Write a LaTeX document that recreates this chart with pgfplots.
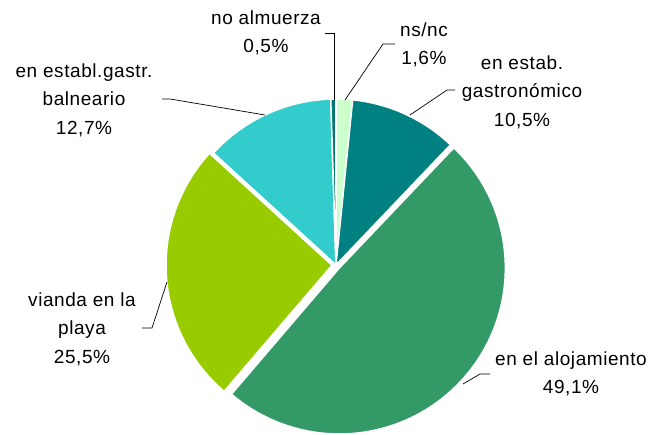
\documentclass[border=0pt]{standalone}
\usepackage{pgfplots}
\pgfplotsset{compat=1.18}
\usepackage{fontspec}
\setmainfont{Liberation Sans}[LetterSpace=3]

\definecolor{cNs}{HTML}{CCFFCC}
\definecolor{cGas}{HTML}{008080}
\definecolor{cAloj}{HTML}{339966}
\definecolor{cVia}{HTML}{99CC00}
\definecolor{cBal}{HTML}{33CCCC}
\definecolor{cNo}{HTML}{007878}

% pie geometry, in pixels of the reference (y downwards, so negative)
\def\cx{336}
\def\cy{-265}
\def\R{166}
\def\total{99.9}
\xdef\curang{90}

% #1 value, #2 colour, #3 explode offset
\newcommand\slice[3]{%
  \pgfmathsetmacro\sweep{#1/\total*360}%
  \pgfmathsetmacro\aS{\curang}%
  \pgfmathsetmacro\aE{\curang-\sweep}%
  \pgfmathsetmacro\aM{\curang-\sweep/2}%
  \edef\tmp{\noexpand\fill[#2, draw=white, line width=1.5pt, line join=round]
    (axis cs:\cx,\cy) ++(\aM:#3pt) -- ++(\aS:\R pt)
    arc[start angle=\aS, end angle=\aE, radius=\R pt] -- cycle;}%
  \tmp
  \xdef\curang{\aE}%
}

\begin{document}
\begin{tikzpicture}
\begin{axis}[
    name=ax,
    width=652pt, height=435pt,
    scale only axis,
    xmin=0, xmax=652, ymin=-435, ymax=0,
    hide axis, clip=false,
]
\slice{1.6}{cNs}{0}
\slice{10.5}{cGas}{0}
\slice{49.1}{cAloj}{4.5}
\slice{25.5}{cVia}{4}
\slice{12.7}{cBal}{0}
\slice{0.5}{cNo}{0}

% leader lines
\draw[black, line width=0.7pt] (axis cs:325,-33) -- (axis cs:334,-33) -- (axis cs:334,-100);
\draw[black, line width=0.7pt] (axis cs:395,-44) -- (axis cs:383,-44) -- (axis cs:345,-100);
\draw[black, line width=0.7pt] (axis cs:455,-90) -- (axis cs:447,-90) -- (axis cs:410,-115);
\draw[black, line width=0.7pt] (axis cs:162,-99) -- (axis cs:170,-99) -- (axis cs:265,-115);
\draw[black, line width=0.7pt] (axis cs:142,-328) -- (axis cs:152,-328) -- (axis cs:167,-282);
\draw[black, line width=0.7pt] (axis cs:490,-374) -- (axis cs:480,-374) -- (axis cs:463,-384);

% labels
\tikzset{lab/.style={align=center, inner sep=0pt, font=\fontsize{19}{28.5}\selectfont}}
\node[lab] at (axis cs:266,-33) {no almuerza\\0,5\%};
\node[lab] at (axis cs:424,-45) {ns/nc\\1,6\%};
\node[lab] at (axis cs:522,-92) {en estab.\\gastronómico\\10,5\%};
\node[lab] at (axis cs:84,-100) {en establ.gastr.\\balneario\\12,7\%};
\node[lab] at (axis cs:82,-329) {vianda en la\\playa\\25,5\%};
\node[lab] at (axis cs:571,-374) {en el alojamiento\\49,1\%};
\end{axis}
\pgfresetboundingbox
\path (ax.south west) rectangle (ax.north east);
\end{tikzpicture}
\end{document}
